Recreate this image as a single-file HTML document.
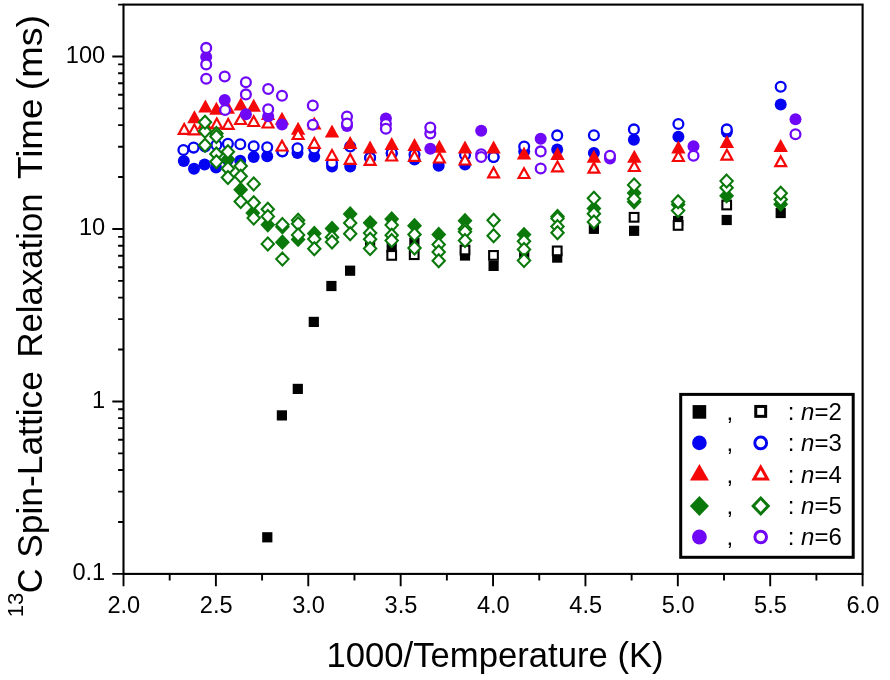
<!DOCTYPE html>
<html><head><meta charset="utf-8"><title>13C Spin-Lattice Relaxation Time</title>
<style>
html,body{margin:0;padding:0;background:#fff;}
body{width:890px;height:680px;overflow:hidden;}
svg{display:block;opacity:0.9999;will-change:transform;}
svg text{font-family:"Liberation Sans",sans-serif;fill:#000;}
</style></head><body>
<svg width="890" height="680" viewBox="0 0 890 680">
<rect width="890" height="680" fill="#fff"/>
<rect x="123.5" y="4.6" width="739.1" height="569.3" fill="none" stroke="#000" stroke-width="2.1"/>
<path d="M123.5 573.9V586.3 M169.69 573.9V580.6 M215.89 573.9V586.3 M262.08 573.9V580.6 M308.27 573.9V586.3 M354.47 573.9V580.6 M400.66 573.9V586.3 M446.86 573.9V580.6 M493.05 573.9V586.3 M539.24 573.9V580.6 M585.44 573.9V586.3 M631.63 573.9V580.6 M677.83 573.9V586.3 M724.02 573.9V580.6 M770.21 573.9V586.3 M816.41 573.9V580.6 M862.6 573.9V586.3 M112.3 573.9H123.5 M118.1 521.98H123.5 M118.1 491.61H123.5 M118.1 470.06H123.5 M118.1 453.35H123.5 M118.1 439.69H123.5 M118.1 428.15H123.5 M118.1 418.15H123.5 M118.1 409.32H123.5 M112.3 401.43H123.5 M118.1 349.52H123.5 M118.1 319.15H123.5 M118.1 297.6H123.5 M118.1 280.88H123.5 M118.1 267.23H123.5 M118.1 255.68H123.5 M118.1 245.68H123.5 M118.1 236.86H123.5 M112.3 228.97H123.5 M118.1 177.05H123.5 M118.1 146.68H123.5 M118.1 125.13H123.5 M118.1 108.42H123.5 M118.1 94.76H123.5 M118.1 83.22H123.5 M118.1 73.21H123.5 M118.1 64.39H123.5 M112.3 56.5H123.5 M118.1 4.58H123.5 M118.1 4.58H123.5" stroke="#000" stroke-width="1.9" fill="none"/>
<text x="123.8" y="612.8" font-size="23.6" text-anchor="middle">2.0</text>
<text x="216.19" y="612.8" font-size="23.6" text-anchor="middle">2.5</text>
<text x="308.57" y="612.8" font-size="23.6" text-anchor="middle">3.0</text>
<text x="400.96" y="612.8" font-size="23.6" text-anchor="middle">3.5</text>
<text x="493.35" y="612.8" font-size="23.6" text-anchor="middle">4.0</text>
<text x="585.74" y="612.8" font-size="23.6" text-anchor="middle">4.5</text>
<text x="678.12" y="612.8" font-size="23.6" text-anchor="middle">5.0</text>
<text x="770.51" y="612.8" font-size="23.6" text-anchor="middle">5.5</text>
<text x="862.9" y="612.8" font-size="23.6" text-anchor="middle">6.0</text>
<text x="105.2" y="580.3" font-size="23.6" text-anchor="end">0.1</text>
<text x="105.2" y="407.83" font-size="23.6" text-anchor="end">1</text>
<text x="105.2" y="235.37" font-size="23.6" text-anchor="end">10</text>
<text x="105.2" y="62.9" font-size="23.6" text-anchor="end">100</text>
<text x="326.4" y="666.6" font-size="34.3" textLength="337.2" lengthAdjust="spacingAndGlyphs">1000/Temperature (K)</text>
<g transform="translate(42.3 615) rotate(-90)">
<text x="-2.3" y="-19.4" font-size="21.5" textLength="24.6" lengthAdjust="spacingAndGlyphs">13</text>
<text x="21.7" y="0" font-size="34.8" textLength="24.9" lengthAdjust="spacingAndGlyphs">C</text>
<text x="57.2" y="0" font-size="34.8" textLength="186.8" lengthAdjust="spacingAndGlyphs">Spin-Lattice</text>
<text x="257.5" y="0" font-size="34.8" textLength="164.0" lengthAdjust="spacingAndGlyphs">Relaxation</text>
<text x="436.0" y="0" font-size="34.8" textLength="80.5" lengthAdjust="spacingAndGlyphs">Time</text>
<text x="524.7" y="0" font-size="34.8" textLength="75.5" lengthAdjust="spacingAndGlyphs">(ms)</text>
</g>
<rect x="262.2" y="532.2" width="10.2" height="10.2" fill="#000000"/>
<rect x="276.8" y="410.3" width="10.2" height="10.2" fill="#000000"/>
<rect x="292.7" y="383.8" width="10.2" height="10.2" fill="#000000"/>
<rect x="308.7" y="316.8" width="10.2" height="10.2" fill="#000000"/>
<rect x="326.3" y="280.9" width="10.2" height="10.2" fill="#000000"/>
<rect x="345" y="265.6" width="10.2" height="10.2" fill="#000000"/>
<rect x="365" y="238.2" width="10.2" height="10.2" fill="#000000"/>
<rect x="386.6" y="242.2" width="10.2" height="10.2" fill="#000000"/>
<rect x="409.3" y="237.7" width="10.2" height="10.2" fill="#000000"/>
<rect x="459.9" y="250.4" width="10.2" height="10.2" fill="#000000"/>
<rect x="488.5" y="260.8" width="10.2" height="10.2" fill="#000000"/>
<rect x="519.1" y="250.5" width="10.2" height="10.2" fill="#000000"/>
<rect x="552.1" y="252.5" width="10.2" height="10.2" fill="#000000"/>
<rect x="588.8" y="223.7" width="10.2" height="10.2" fill="#000000"/>
<rect x="629" y="225.7" width="10.2" height="10.2" fill="#000000"/>
<rect x="673" y="215.9" width="10.2" height="10.2" fill="#000000"/>
<rect x="721.6" y="214.9" width="10.2" height="10.2" fill="#000000"/>
<rect x="775.6" y="207.9" width="10.2" height="10.2" fill="#000000"/>
<rect x="387.35" y="251.05" width="8.7" height="8.7" fill="#fff" stroke="#000000" stroke-width="2.1"/>
<rect x="409.85" y="250.35" width="8.7" height="8.7" fill="#fff" stroke="#000000" stroke-width="2.1"/>
<rect x="460.65" y="245.65" width="8.7" height="8.7" fill="#fff" stroke="#000000" stroke-width="2.1"/>
<rect x="489.15" y="251.05" width="8.7" height="8.7" fill="#fff" stroke="#000000" stroke-width="2.1"/>
<rect x="552.85" y="246.55" width="8.7" height="8.7" fill="#fff" stroke="#000000" stroke-width="2.1"/>
<rect x="629.75" y="212.95" width="8.7" height="8.7" fill="#fff" stroke="#000000" stroke-width="2.1"/>
<rect x="673.75" y="221.05" width="8.7" height="8.7" fill="#fff" stroke="#000000" stroke-width="2.1"/>
<rect x="722.35" y="200.65" width="8.7" height="8.7" fill="#fff" stroke="#000000" stroke-width="2.1"/>
<circle cx="183.8" cy="161" r="6" fill="#0404F2"/>
<circle cx="194" cy="168.8" r="6" fill="#0404F2"/>
<circle cx="204.6" cy="164.5" r="6" fill="#0404F2"/>
<circle cx="216" cy="167.6" r="6" fill="#0404F2"/>
<circle cx="227.9" cy="160" r="6" fill="#0404F2"/>
<circle cx="240.2" cy="160.8" r="6" fill="#0404F2"/>
<circle cx="253.7" cy="156.9" r="6" fill="#0404F2"/>
<circle cx="267.2" cy="156.3" r="6" fill="#0404F2"/>
<circle cx="282.3" cy="151.5" r="6" fill="#0404F2"/>
<circle cx="297.5" cy="153" r="6" fill="#0404F2"/>
<circle cx="314.2" cy="156.6" r="6" fill="#0404F2"/>
<circle cx="332" cy="166.5" r="6" fill="#0404F2"/>
<circle cx="350.2" cy="166.5" r="6" fill="#0404F2"/>
<circle cx="370.1" cy="157.7" r="6" fill="#0404F2"/>
<circle cx="391.7" cy="153.4" r="6" fill="#0404F2"/>
<circle cx="414.5" cy="159.6" r="6" fill="#0404F2"/>
<circle cx="438.7" cy="165.8" r="6" fill="#0404F2"/>
<circle cx="465" cy="164.4" r="6" fill="#0404F2"/>
<circle cx="493.6" cy="157" r="6" fill="#0404F2"/>
<circle cx="524.2" cy="151.6" r="6" fill="#0404F2"/>
<circle cx="557.2" cy="149.6" r="6" fill="#0404F2"/>
<circle cx="593.9" cy="153" r="6" fill="#0404F2"/>
<circle cx="633.9" cy="139.8" r="6" fill="#0404F2"/>
<circle cx="678.4" cy="136.8" r="6" fill="#0404F2"/>
<circle cx="726.9" cy="132" r="6" fill="#0404F2"/>
<circle cx="780.7" cy="104.5" r="6" fill="#0404F2"/>
<circle cx="183.4" cy="150" r="4.9" fill="#fff" stroke="#0404F2" stroke-width="2.3"/>
<circle cx="193.6" cy="147.6" r="4.9" fill="#fff" stroke="#0404F2" stroke-width="2.3"/>
<circle cx="205" cy="146.5" r="4.9" fill="#fff" stroke="#0404F2" stroke-width="2.3"/>
<circle cx="216.4" cy="145" r="4.9" fill="#fff" stroke="#0404F2" stroke-width="2.3"/>
<circle cx="227.9" cy="143.8" r="4.9" fill="#fff" stroke="#0404F2" stroke-width="2.3"/>
<circle cx="240.3" cy="144.2" r="4.9" fill="#fff" stroke="#0404F2" stroke-width="2.3"/>
<circle cx="253.7" cy="146.2" r="4.9" fill="#fff" stroke="#0404F2" stroke-width="2.3"/>
<circle cx="267.2" cy="147.2" r="4.9" fill="#fff" stroke="#0404F2" stroke-width="2.3"/>
<circle cx="282.4" cy="151.3" r="4.9" fill="#fff" stroke="#0404F2" stroke-width="2.3"/>
<circle cx="297.5" cy="148.2" r="4.9" fill="#fff" stroke="#0404F2" stroke-width="2.3"/>
<circle cx="314.2" cy="148.5" r="4.9" fill="#fff" stroke="#0404F2" stroke-width="2.3"/>
<circle cx="332" cy="163" r="4.9" fill="#fff" stroke="#0404F2" stroke-width="2.3"/>
<circle cx="350.2" cy="146.5" r="4.9" fill="#fff" stroke="#0404F2" stroke-width="2.3"/>
<circle cx="370.1" cy="157.7" r="4.9" fill="#fff" stroke="#0404F2" stroke-width="2.3"/>
<circle cx="391.7" cy="153" r="4.9" fill="#fff" stroke="#0404F2" stroke-width="2.3"/>
<circle cx="414.5" cy="154.6" r="4.9" fill="#fff" stroke="#0404F2" stroke-width="2.3"/>
<circle cx="465" cy="155" r="4.9" fill="#fff" stroke="#0404F2" stroke-width="2.3"/>
<circle cx="493.6" cy="157" r="4.9" fill="#fff" stroke="#0404F2" stroke-width="2.3"/>
<circle cx="524.2" cy="146.5" r="4.9" fill="#fff" stroke="#0404F2" stroke-width="2.3"/>
<circle cx="557.2" cy="135.4" r="4.9" fill="#fff" stroke="#0404F2" stroke-width="2.3"/>
<circle cx="593.9" cy="135.2" r="4.9" fill="#fff" stroke="#0404F2" stroke-width="2.3"/>
<circle cx="633.9" cy="129.4" r="4.9" fill="#fff" stroke="#0404F2" stroke-width="2.3"/>
<circle cx="678.4" cy="124" r="4.9" fill="#fff" stroke="#0404F2" stroke-width="2.3"/>
<circle cx="726.8" cy="129.4" r="4.9" fill="#fff" stroke="#0404F2" stroke-width="2.3"/>
<circle cx="780.7" cy="86.7" r="4.9" fill="#fff" stroke="#0404F2" stroke-width="2.3"/>
<polygon points="194.4,110.3 187.2,123.3 201.6,123.3" fill="#F40808"/>
<polygon points="205.4,99.5 198.2,112.5 212.6,112.5" fill="#F40808"/>
<polygon points="216.4,101.7 209.2,114.7 223.6,114.7" fill="#F40808"/>
<polygon points="227.8,100.8 220.6,113.8 235,113.8" fill="#F40808"/>
<polygon points="240.8,97.5 233.6,110.5 248,110.5" fill="#F40808"/>
<polygon points="253.7,98.7 246.5,111.7 260.9,111.7" fill="#F40808"/>
<polygon points="268.1,107.1 260.9,120.1 275.3,120.1" fill="#F40808"/>
<polygon points="282,111.7 274.8,124.7 289.2,124.7" fill="#F40808"/>
<polygon points="298.1,121.8 290.9,134.8 305.3,134.8" fill="#F40808"/>
<polygon points="314.3,116.6 307.1,129.6 321.5,129.6" fill="#F40808"/>
<polygon points="332,124.6 324.8,137.6 339.2,137.6" fill="#F40808"/>
<polygon points="350.2,136.1 343,149.1 357.4,149.1" fill="#F40808"/>
<polygon points="370.1,140.4 362.9,153.4 377.3,153.4" fill="#F40808"/>
<polygon points="391.7,137 384.5,150 398.9,150" fill="#F40808"/>
<polygon points="414.5,138 407.3,151 421.7,151" fill="#F40808"/>
<polygon points="439.4,139.7 432.2,152.7 446.6,152.7" fill="#F40808"/>
<polygon points="465,140.4 457.8,153.4 472.2,153.4" fill="#F40808"/>
<polygon points="493.6,140.4 486.4,153.4 500.8,153.4" fill="#F40808"/>
<polygon points="524,146.5 516.8,159.5 531.2,159.5" fill="#F40808"/>
<polygon points="557.5,147.1 550.3,160.1 564.7,160.1" fill="#F40808"/>
<polygon points="593.9,149.8 586.7,162.8 601.1,162.8" fill="#F40808"/>
<polygon points="634.3,149.8 627.1,162.8 641.5,162.8" fill="#F40808"/>
<polygon points="678.4,140.5 671.2,153.5 685.6,153.5" fill="#F40808"/>
<polygon points="726.9,135 719.7,148 734.1,148" fill="#F40808"/>
<polygon points="780.7,138.9 773.5,151.9 787.9,151.9" fill="#F40808"/>
<polygon points="184.2,124.07 178.77,133.9 189.63,133.9" fill="#fff" stroke="#F40808" stroke-width="2.2" stroke-linejoin="miter"/>
<polygon points="194.4,124.47 188.97,134.3 199.83,134.3" fill="#fff" stroke="#F40808" stroke-width="2.2" stroke-linejoin="miter"/>
<polygon points="204.6,118.17 199.17,128 210.03,128" fill="#fff" stroke="#F40808" stroke-width="2.2" stroke-linejoin="miter"/>
<polygon points="216.8,118.57 211.37,128.4 222.23,128.4" fill="#fff" stroke="#F40808" stroke-width="2.2" stroke-linejoin="miter"/>
<polygon points="228.2,118.97 222.77,128.8 233.63,128.8" fill="#fff" stroke="#F40808" stroke-width="2.2" stroke-linejoin="miter"/>
<polygon points="240.6,114.17 235.17,124 246.03,124" fill="#fff" stroke="#F40808" stroke-width="2.2" stroke-linejoin="miter"/>
<polygon points="253.7,116.17 248.27,126 259.13,126" fill="#fff" stroke="#F40808" stroke-width="2.2" stroke-linejoin="miter"/>
<polygon points="268,117.67 262.57,127.5 273.43,127.5" fill="#fff" stroke="#F40808" stroke-width="2.2" stroke-linejoin="miter"/>
<polygon points="282,140.67 276.57,150.5 287.43,150.5" fill="#fff" stroke="#F40808" stroke-width="2.2" stroke-linejoin="miter"/>
<polygon points="298.1,129.17 292.67,139 303.53,139" fill="#fff" stroke="#F40808" stroke-width="2.2" stroke-linejoin="miter"/>
<polygon points="314.3,137.97 308.87,147.8 319.73,147.8" fill="#fff" stroke="#F40808" stroke-width="2.2" stroke-linejoin="miter"/>
<polygon points="332,149.97 326.57,159.8 337.43,159.8" fill="#fff" stroke="#F40808" stroke-width="2.2" stroke-linejoin="miter"/>
<polygon points="350.2,154.07 344.77,163.9 355.63,163.9" fill="#fff" stroke="#F40808" stroke-width="2.2" stroke-linejoin="miter"/>
<polygon points="370.1,155.07 364.67,164.9 375.53,164.9" fill="#fff" stroke="#F40808" stroke-width="2.2" stroke-linejoin="miter"/>
<polygon points="391.7,150.67 386.27,160.5 397.13,160.5" fill="#fff" stroke="#F40808" stroke-width="2.2" stroke-linejoin="miter"/>
<polygon points="414.5,150.97 409.07,160.8 419.93,160.8" fill="#fff" stroke="#F40808" stroke-width="2.2" stroke-linejoin="miter"/>
<polygon points="439.4,152.67 433.97,162.5 444.83,162.5" fill="#fff" stroke="#F40808" stroke-width="2.2" stroke-linejoin="miter"/>
<polygon points="465,154.67 459.57,164.5 470.43,164.5" fill="#fff" stroke="#F40808" stroke-width="2.2" stroke-linejoin="miter"/>
<polygon points="493.6,167.57 488.17,177.4 499.03,177.4" fill="#fff" stroke="#F40808" stroke-width="2.2" stroke-linejoin="miter"/>
<polygon points="524,168.17 518.57,178 529.43,178" fill="#fff" stroke="#F40808" stroke-width="2.2" stroke-linejoin="miter"/>
<polygon points="557.5,161.47 552.07,171.3 562.93,171.3" fill="#fff" stroke="#F40808" stroke-width="2.2" stroke-linejoin="miter"/>
<polygon points="593.9,162.77 588.47,172.6 599.33,172.6" fill="#fff" stroke="#F40808" stroke-width="2.2" stroke-linejoin="miter"/>
<polygon points="634.3,161.17 628.87,171 639.73,171" fill="#fff" stroke="#F40808" stroke-width="2.2" stroke-linejoin="miter"/>
<polygon points="678.4,151.17 672.97,161 683.83,161" fill="#fff" stroke="#F40808" stroke-width="2.2" stroke-linejoin="miter"/>
<polygon points="726.9,149.77 721.47,159.6 732.33,159.6" fill="#fff" stroke="#F40808" stroke-width="2.2" stroke-linejoin="miter"/>
<polygon points="780.7,156.37 775.27,166.2 786.13,166.2" fill="#fff" stroke="#F40808" stroke-width="2.2" stroke-linejoin="miter"/>
<polygon points="227.9,151.4 235.4,159.3 227.9,167.2 220.4,159.3" fill="#0A780A"/>
<polygon points="240.7,181.8 248.2,189.7 240.7,197.6 233.2,189.7" fill="#0A780A"/>
<polygon points="252.8,205.1 260.3,213 252.8,220.9 245.3,213" fill="#0A780A"/>
<polygon points="267.8,216.9 275.3,224.8 267.8,232.7 260.3,224.8" fill="#0A780A"/>
<polygon points="282.4,234.3 289.9,242.2 282.4,250.1 274.9,242.2" fill="#0A780A"/>
<polygon points="298.1,231.5 305.6,239.4 298.1,247.3 290.6,239.4" fill="#0A780A"/>
<polygon points="314.3,225.6 321.8,233.5 314.3,241.4 306.8,233.5" fill="#0A780A"/>
<polygon points="332,220.5 339.5,228.4 332,236.3 324.5,228.4" fill="#0A780A"/>
<polygon points="350.2,206.1 357.7,214 350.2,221.9 342.7,214" fill="#0A780A"/>
<polygon points="370.1,214.9 377.6,222.8 370.1,230.7 362.6,222.8" fill="#0A780A"/>
<polygon points="391.7,211.1 399.2,219 391.7,226.9 384.2,219" fill="#0A780A"/>
<polygon points="414.5,217.8 422,225.7 414.5,233.6 407,225.7" fill="#0A780A"/>
<polygon points="438.7,226.6 446.2,234.5 438.7,242.4 431.2,234.5" fill="#0A780A"/>
<polygon points="465,212.8 472.5,220.7 465,228.6 457.5,220.7" fill="#0A780A"/>
<polygon points="524,226.7 531.5,234.6 524,242.5 516.5,234.6" fill="#0A780A"/>
<polygon points="557.5,208.6 565,216.5 557.5,224.4 550,216.5" fill="#0A780A"/>
<polygon points="593.9,200.5 601.4,208.4 593.9,216.3 586.4,208.4" fill="#0A780A"/>
<polygon points="634.1,185.1 641.6,193 634.1,200.9 626.6,193" fill="#0A780A"/>
<polygon points="634.1,193.9 641.6,201.8 634.1,209.7 626.6,201.8" fill="#0A780A"/>
<polygon points="678.1,196.6 685.6,204.5 678.1,212.4 670.6,204.5" fill="#0A780A"/>
<polygon points="726.6,187.9 734.1,195.8 726.6,203.7 719.1,195.8" fill="#0A780A"/>
<polygon points="780.7,196.3 788.2,204.2 780.7,212.1 773.2,204.2" fill="#0A780A"/>
<polygon points="205,138.82 211.15,145.3 205,151.78 198.85,145.3" fill="#fff" stroke="#0A780A" stroke-width="2.1" stroke-linejoin="miter"/>
<polygon points="205,124.82 211.15,131.3 205,137.78 198.85,131.3" fill="#fff" stroke="#0A780A" stroke-width="2.1" stroke-linejoin="miter"/>
<polygon points="205,115.82 211.15,122.3 205,128.78 198.85,122.3" fill="#fff" stroke="#0A780A" stroke-width="2.1" stroke-linejoin="miter"/>
<polygon points="216.4,127.02 222.55,133.5 216.4,139.98 210.25,133.5" fill="#fff" stroke="#0A780A" stroke-width="2.1" stroke-linejoin="miter"/>
<polygon points="216.4,130.02 222.55,136.5 216.4,142.98 210.25,136.5" fill="#fff" stroke="#0A780A" stroke-width="2.1" stroke-linejoin="miter"/>
<polygon points="216.4,147.52 222.55,154 216.4,160.48 210.25,154" fill="#fff" stroke="#0A780A" stroke-width="2.1" stroke-linejoin="miter"/>
<polygon points="216.4,155.22 222.55,161.7 216.4,168.18 210.25,161.7" fill="#fff" stroke="#0A780A" stroke-width="2.1" stroke-linejoin="miter"/>
<polygon points="227.9,145.22 234.05,151.7 227.9,158.18 221.75,151.7" fill="#fff" stroke="#0A780A" stroke-width="2.1" stroke-linejoin="miter"/>
<polygon points="227.9,162.02 234.05,168.5 227.9,174.98 221.75,168.5" fill="#fff" stroke="#0A780A" stroke-width="2.1" stroke-linejoin="miter"/>
<polygon points="227.9,171.02 234.05,177.5 227.9,183.98 221.75,177.5" fill="#fff" stroke="#0A780A" stroke-width="2.1" stroke-linejoin="miter"/>
<polygon points="240.7,159.52 246.85,166 240.7,172.48 234.55,166" fill="#fff" stroke="#0A780A" stroke-width="2.1" stroke-linejoin="miter"/>
<polygon points="240.7,169.82 246.85,176.3 240.7,182.78 234.55,176.3" fill="#fff" stroke="#0A780A" stroke-width="2.1" stroke-linejoin="miter"/>
<polygon points="240.7,195.02 246.85,201.5 240.7,207.98 234.55,201.5" fill="#fff" stroke="#0A780A" stroke-width="2.1" stroke-linejoin="miter"/>
<polygon points="253.7,177.42 259.85,183.9 253.7,190.38 247.55,183.9" fill="#fff" stroke="#0A780A" stroke-width="2.1" stroke-linejoin="miter"/>
<polygon points="253.7,196.22 259.85,202.7 253.7,209.18 247.55,202.7" fill="#fff" stroke="#0A780A" stroke-width="2.1" stroke-linejoin="miter"/>
<polygon points="253.7,211.62 259.85,218.1 253.7,224.58 247.55,218.1" fill="#fff" stroke="#0A780A" stroke-width="2.1" stroke-linejoin="miter"/>
<polygon points="267.8,202.72 273.95,209.2 267.8,215.68 261.65,209.2" fill="#fff" stroke="#0A780A" stroke-width="2.1" stroke-linejoin="miter"/>
<polygon points="267.8,209.92 273.95,216.4 267.8,222.88 261.65,216.4" fill="#fff" stroke="#0A780A" stroke-width="2.1" stroke-linejoin="miter"/>
<polygon points="267.8,237.42 273.95,243.9 267.8,250.38 261.65,243.9" fill="#fff" stroke="#0A780A" stroke-width="2.1" stroke-linejoin="miter"/>
<polygon points="282.4,220.32 288.55,226.8 282.4,233.28 276.25,226.8" fill="#fff" stroke="#0A780A" stroke-width="2.1" stroke-linejoin="miter"/>
<polygon points="282.4,218.12 288.55,224.6 282.4,231.08 276.25,224.6" fill="#fff" stroke="#0A780A" stroke-width="2.1" stroke-linejoin="miter"/>
<polygon points="282.4,252.62 288.55,259.1 282.4,265.58 276.25,259.1" fill="#fff" stroke="#0A780A" stroke-width="2.1" stroke-linejoin="miter"/>
<polygon points="298.1,213.82 304.25,220.3 298.1,226.78 291.95,220.3" fill="#fff" stroke="#0A780A" stroke-width="2.1" stroke-linejoin="miter"/>
<polygon points="298.1,217.22 304.25,223.7 298.1,230.18 291.95,223.7" fill="#fff" stroke="#0A780A" stroke-width="2.1" stroke-linejoin="miter"/>
<polygon points="298.1,228.42 304.25,234.9 298.1,241.38 291.95,234.9" fill="#fff" stroke="#0A780A" stroke-width="2.1" stroke-linejoin="miter"/>
<polygon points="314.3,232.52 320.45,239 314.3,245.48 308.15,239" fill="#fff" stroke="#0A780A" stroke-width="2.1" stroke-linejoin="miter"/>
<polygon points="314.3,242.32 320.45,248.8 314.3,255.28 308.15,248.8" fill="#fff" stroke="#0A780A" stroke-width="2.1" stroke-linejoin="miter"/>
<polygon points="332,230.72 338.15,237.2 332,243.68 325.85,237.2" fill="#fff" stroke="#0A780A" stroke-width="2.1" stroke-linejoin="miter"/>
<polygon points="332,235.42 338.15,241.9 332,248.38 325.85,241.9" fill="#fff" stroke="#0A780A" stroke-width="2.1" stroke-linejoin="miter"/>
<polygon points="350.2,216.52 356.35,223 350.2,229.48 344.05,223" fill="#fff" stroke="#0A780A" stroke-width="2.1" stroke-linejoin="miter"/>
<polygon points="350.2,227.32 356.35,233.8 350.2,240.28 344.05,233.8" fill="#fff" stroke="#0A780A" stroke-width="2.1" stroke-linejoin="miter"/>
<polygon points="370.1,226.62 376.25,233.1 370.1,239.58 363.95,233.1" fill="#fff" stroke="#0A780A" stroke-width="2.1" stroke-linejoin="miter"/>
<polygon points="370.1,232.72 376.25,239.2 370.1,245.68 363.95,239.2" fill="#fff" stroke="#0A780A" stroke-width="2.1" stroke-linejoin="miter"/>
<polygon points="370.1,242.12 376.25,248.6 370.1,255.08 363.95,248.6" fill="#fff" stroke="#0A780A" stroke-width="2.1" stroke-linejoin="miter"/>
<polygon points="391.7,218.62 397.85,225.1 391.7,231.58 385.55,225.1" fill="#fff" stroke="#0A780A" stroke-width="2.1" stroke-linejoin="miter"/>
<polygon points="391.7,228.72 397.85,235.2 391.7,241.68 385.55,235.2" fill="#fff" stroke="#0A780A" stroke-width="2.1" stroke-linejoin="miter"/>
<polygon points="391.7,234.12 397.85,240.6 391.7,247.08 385.55,240.6" fill="#fff" stroke="#0A780A" stroke-width="2.1" stroke-linejoin="miter"/>
<polygon points="414.5,228.02 420.65,234.5 414.5,240.98 408.35,234.5" fill="#fff" stroke="#0A780A" stroke-width="2.1" stroke-linejoin="miter"/>
<polygon points="414.5,241.52 420.65,248 414.5,254.48 408.35,248" fill="#fff" stroke="#0A780A" stroke-width="2.1" stroke-linejoin="miter"/>
<polygon points="438.7,238.12 444.85,244.6 438.7,251.08 432.55,244.6" fill="#fff" stroke="#0A780A" stroke-width="2.1" stroke-linejoin="miter"/>
<polygon points="438.7,245.52 444.85,252 438.7,258.48 432.55,252" fill="#fff" stroke="#0A780A" stroke-width="2.1" stroke-linejoin="miter"/>
<polygon points="438.7,254.32 444.85,260.8 438.7,267.28 432.55,260.8" fill="#fff" stroke="#0A780A" stroke-width="2.1" stroke-linejoin="miter"/>
<polygon points="465,222.62 471.15,229.1 465,235.58 458.85,229.1" fill="#fff" stroke="#0A780A" stroke-width="2.1" stroke-linejoin="miter"/>
<polygon points="465,225.32 471.15,231.8 465,238.28 458.85,231.8" fill="#fff" stroke="#0A780A" stroke-width="2.1" stroke-linejoin="miter"/>
<polygon points="465,234.12 471.15,240.6 465,247.08 458.85,240.6" fill="#fff" stroke="#0A780A" stroke-width="2.1" stroke-linejoin="miter"/>
<polygon points="493.6,213.82 499.75,220.3 493.6,226.78 487.45,220.3" fill="#fff" stroke="#0A780A" stroke-width="2.1" stroke-linejoin="miter"/>
<polygon points="493.6,229.32 499.75,235.8 493.6,242.28 487.45,235.8" fill="#fff" stroke="#0A780A" stroke-width="2.1" stroke-linejoin="miter"/>
<polygon points="524,234.82 530.15,241.3 524,247.78 517.85,241.3" fill="#fff" stroke="#0A780A" stroke-width="2.1" stroke-linejoin="miter"/>
<polygon points="524,242.92 530.15,249.4 524,255.88 517.85,249.4" fill="#fff" stroke="#0A780A" stroke-width="2.1" stroke-linejoin="miter"/>
<polygon points="524,254.12 530.15,260.6 524,267.08 517.85,260.6" fill="#fff" stroke="#0A780A" stroke-width="2.1" stroke-linejoin="miter"/>
<polygon points="557.5,212.02 563.65,218.5 557.5,224.98 551.35,218.5" fill="#fff" stroke="#0A780A" stroke-width="2.1" stroke-linejoin="miter"/>
<polygon points="557.5,220.12 563.65,226.6 557.5,233.08 551.35,226.6" fill="#fff" stroke="#0A780A" stroke-width="2.1" stroke-linejoin="miter"/>
<polygon points="557.5,226.22 563.65,232.7 557.5,239.18 551.35,232.7" fill="#fff" stroke="#0A780A" stroke-width="2.1" stroke-linejoin="miter"/>
<polygon points="593.9,191.82 600.05,198.3 593.9,204.78 587.75,198.3" fill="#fff" stroke="#0A780A" stroke-width="2.1" stroke-linejoin="miter"/>
<polygon points="593.9,207.32 600.05,213.8 593.9,220.28 587.75,213.8" fill="#fff" stroke="#0A780A" stroke-width="2.1" stroke-linejoin="miter"/>
<polygon points="593.9,215.42 600.05,221.9 593.9,228.38 587.75,221.9" fill="#fff" stroke="#0A780A" stroke-width="2.1" stroke-linejoin="miter"/>
<polygon points="634.1,192.62 640.25,199.1 634.1,205.58 627.95,199.1" fill="#fff" stroke="#0A780A" stroke-width="2.1" stroke-linejoin="miter"/>
<polygon points="634.1,178.42 640.25,184.9 634.1,191.38 627.95,184.9" fill="#fff" stroke="#0A780A" stroke-width="2.1" stroke-linejoin="miter"/>
<polygon points="678.1,204.12 684.25,210.6 678.1,217.08 671.95,210.6" fill="#fff" stroke="#0A780A" stroke-width="2.1" stroke-linejoin="miter"/>
<polygon points="678.1,195.32 684.25,201.8 678.1,208.28 671.95,201.8" fill="#fff" stroke="#0A780A" stroke-width="2.1" stroke-linejoin="miter"/>
<polygon points="726.6,181.32 732.75,187.8 726.6,194.28 720.45,187.8" fill="#fff" stroke="#0A780A" stroke-width="2.1" stroke-linejoin="miter"/>
<polygon points="726.6,174.62 732.75,181.1 726.6,187.58 720.45,181.1" fill="#fff" stroke="#0A780A" stroke-width="2.1" stroke-linejoin="miter"/>
<polygon points="780.7,192.92 786.85,199.4 780.7,205.88 774.55,199.4" fill="#fff" stroke="#0A780A" stroke-width="2.1" stroke-linejoin="miter"/>
<polygon points="780.7,186.72 786.85,193.2 780.7,199.68 774.55,193.2" fill="#fff" stroke="#0A780A" stroke-width="2.1" stroke-linejoin="miter"/>
<circle cx="206.2" cy="57" r="6" fill="#7008F8"/>
<circle cx="224.7" cy="100.1" r="6" fill="#7008F8"/>
<circle cx="245.9" cy="114.3" r="6" fill="#7008F8"/>
<circle cx="268.2" cy="116.2" r="6" fill="#7008F8"/>
<circle cx="282" cy="124.4" r="6" fill="#7008F8"/>
<circle cx="347" cy="126" r="6" fill="#7008F8"/>
<circle cx="385.9" cy="118.6" r="6" fill="#7008F8"/>
<circle cx="430.3" cy="148.7" r="6" fill="#7008F8"/>
<circle cx="481.2" cy="130.7" r="6" fill="#7008F8"/>
<circle cx="540.7" cy="138.8" r="6" fill="#7008F8"/>
<circle cx="610" cy="158.4" r="6" fill="#7008F8"/>
<circle cx="693.5" cy="146.2" r="6" fill="#7008F8"/>
<circle cx="795.5" cy="119.3" r="6" fill="#7008F8"/>
<circle cx="206.2" cy="47.9" r="4.9" fill="#fff" stroke="#7008F8" stroke-width="2.3"/>
<circle cx="206.2" cy="64.4" r="4.9" fill="#fff" stroke="#7008F8" stroke-width="2.3"/>
<circle cx="206.2" cy="78.8" r="4.9" fill="#fff" stroke="#7008F8" stroke-width="2.3"/>
<circle cx="224.7" cy="76.5" r="4.9" fill="#fff" stroke="#7008F8" stroke-width="2.3"/>
<circle cx="225.1" cy="110" r="4.9" fill="#fff" stroke="#7008F8" stroke-width="2.3"/>
<circle cx="245.9" cy="82.3" r="4.9" fill="#fff" stroke="#7008F8" stroke-width="2.3"/>
<circle cx="245.9" cy="94.4" r="4.9" fill="#fff" stroke="#7008F8" stroke-width="2.3"/>
<circle cx="268.2" cy="89" r="4.9" fill="#fff" stroke="#7008F8" stroke-width="2.3"/>
<circle cx="268.2" cy="109.3" r="4.9" fill="#fff" stroke="#7008F8" stroke-width="2.3"/>
<circle cx="282" cy="95.7" r="4.9" fill="#fff" stroke="#7008F8" stroke-width="2.3"/>
<circle cx="312.8" cy="105.5" r="4.9" fill="#fff" stroke="#7008F8" stroke-width="2.3"/>
<circle cx="312.8" cy="124.7" r="4.9" fill="#fff" stroke="#7008F8" stroke-width="2.3"/>
<circle cx="347" cy="116.6" r="4.9" fill="#fff" stroke="#7008F8" stroke-width="2.3"/>
<circle cx="347" cy="123.5" r="4.9" fill="#fff" stroke="#7008F8" stroke-width="2.3"/>
<circle cx="385.9" cy="124" r="4.9" fill="#fff" stroke="#7008F8" stroke-width="2.3"/>
<circle cx="385.9" cy="128.7" r="4.9" fill="#fff" stroke="#7008F8" stroke-width="2.3"/>
<circle cx="430.3" cy="133.4" r="4.9" fill="#fff" stroke="#7008F8" stroke-width="2.3"/>
<circle cx="430.3" cy="127.6" r="4.9" fill="#fff" stroke="#7008F8" stroke-width="2.3"/>
<circle cx="481.2" cy="154.3" r="4.9" fill="#fff" stroke="#7008F8" stroke-width="2.3"/>
<circle cx="481.2" cy="157" r="4.9" fill="#fff" stroke="#7008F8" stroke-width="2.3"/>
<circle cx="540.7" cy="151.4" r="4.9" fill="#fff" stroke="#7008F8" stroke-width="2.3"/>
<circle cx="540.7" cy="168.5" r="4.9" fill="#fff" stroke="#7008F8" stroke-width="2.3"/>
<circle cx="610" cy="155.7" r="4.9" fill="#fff" stroke="#7008F8" stroke-width="2.3"/>
<circle cx="693.5" cy="155.7" r="4.9" fill="#fff" stroke="#7008F8" stroke-width="2.3"/>
<circle cx="795.5" cy="134.2" r="4.9" fill="#fff" stroke="#7008F8" stroke-width="2.3"/>
<rect x="680.7" y="394.4" width="172.5" height="162.9" fill="#fff" stroke="#000" stroke-width="3"/>
<rect x="692.6" y="405.1" width="13.6" height="13.6" fill="#000000"/>
<rect x="755.75" y="406.45" width="9.9" height="9.9" fill="#fff" stroke="#000000" stroke-width="3"/>
<circle cx="699.4" cy="442.9" r="7.3" fill="#0404F2"/>
<circle cx="760.7" cy="442.9" r="5.9" fill="#fff" stroke="#0404F2" stroke-width="3"/>
<polygon points="699.4,464.1 689.9,480.5 708.9,480.5" fill="#F40808"/>
<polygon points="760.7,467.07 753.96,479.1 767.44,479.1" fill="#fff" stroke="#F40808" stroke-width="3" stroke-linejoin="miter"/>
<polygon points="699.4,495.9 708.95,506 699.4,516.1 689.85,506" fill="#0A780A"/>
<polygon points="760.7,498.08 768.23,506 760.7,513.92 753.17,506" fill="#fff" stroke="#0A780A" stroke-width="3" stroke-linejoin="miter"/>
<circle cx="699.4" cy="537" r="7.4" fill="#7008F8"/>
<circle cx="760.7" cy="537" r="5.8" fill="#fff" stroke="#7008F8" stroke-width="3"/>
<text x="726.4" y="419.8" font-size="24">,</text>
<text x="787.7" y="419.8" font-size="24">: <tspan font-style="italic">n</tspan>=2</text>
<text x="726.4" y="451.1" font-size="24">,</text>
<text x="787.7" y="451.1" font-size="24">: <tspan font-style="italic">n</tspan>=3</text>
<text x="726.4" y="482.5" font-size="24">,</text>
<text x="787.7" y="482.5" font-size="24">: <tspan font-style="italic">n</tspan>=4</text>
<text x="726.4" y="513.9" font-size="24">,</text>
<text x="787.7" y="513.9" font-size="24">: <tspan font-style="italic">n</tspan>=5</text>
<text x="726.4" y="545.2" font-size="24">,</text>
<text x="787.7" y="545.2" font-size="24">: <tspan font-style="italic">n</tspan>=6</text>
</svg>
</body></html>
